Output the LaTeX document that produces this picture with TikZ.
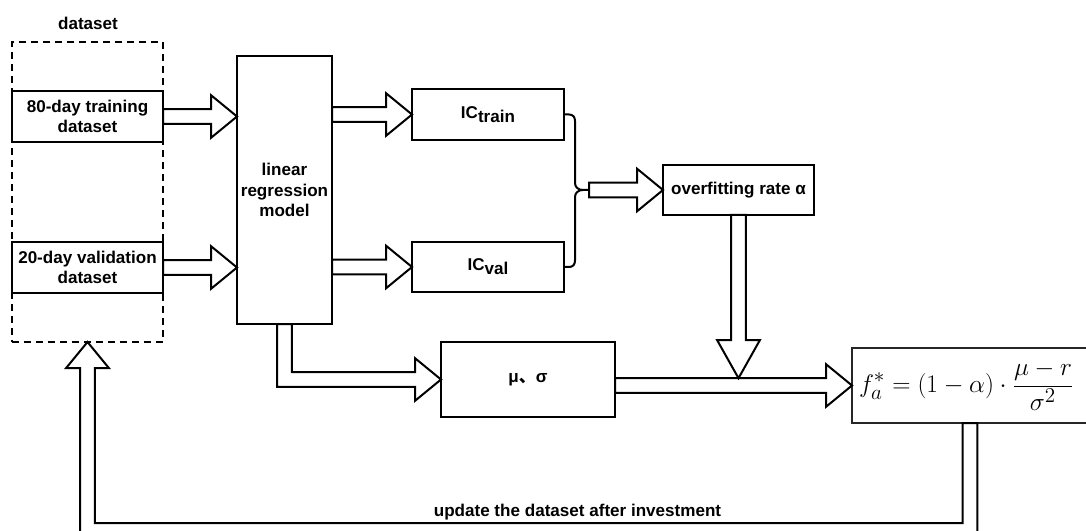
\documentclass[tikz,border=0pt]{standalone}
\usepackage[no-math]{fontspec}
\usepackage{graphicx}
\newfontfamily\arialf{Liberation Sans}
\newfontfamily\cjkf{Noto Sans CJK SC}
\usetikzlibrary{calc}
\newdimen\pxu \pxu=0.75pt
\def\sw{5.5pt}\def\hw{16pt}\def\hl{19.5pt}\def\hlv{28.5pt}
\newcommand\labf{\arialf\bfseries\fontsize{12.8}{15.5}\selectfont}
% horizontal block arrow from #1 to #2 (same height)
\newcommand\harr[2]{\draw[blk] let \p1=#1, \p2=#2 in
  (\x1,\y1+\sw) -- (\x2-\hl,\y1+\sw) -- (\x2-\hl,\y1+\hw) -- (\x2,\y1)
  -- (\x2-\hl,\y1-\hw) -- (\x2-\hl,\y1-\sw) -- (\x1,\y1-\sw) -- cycle;}
\tikzset{
  ln/.style={line width=1.5pt, line join=round},
  blk/.style={draw, line width=1.5pt, fill=white, line join=miter},
  box/.style={draw, line width=1.5pt, fill=white, align=center, font=\labf,
    inner sep=1pt, outer sep=0pt},
  dsbox/.style={draw, line width=1.5pt, dash pattern=on 5.25pt off 3.75pt, outer sep=0pt},
  fbox/.style={draw=black!85, line width=0.8pt, fill=white, outer sep=0pt,
    anchor=west, minimum height=75\pxu, text width=262\pxu, inner xsep=7\pxu, align=left},
}
\begin{document}
\begin{tikzpicture}[x=0.75pt,y=-0.75pt]
\useasboundingbox (0,0) rectangle (1086,531);
\clip (0,0) rectangle (1086,531);

% dataset group
\node[font=\labf, anchor=base] (title) at (88,30) {dataset};
\node[dsbox, minimum width=151\pxu, minimum height=300\pxu] (ds) at (87.5,192) {};
\node[box, minimum width=151\pxu, minimum height=51\pxu] (train) at (87.5,116.5) {80-day training\\dataset};
\node[box, minimum width=151\pxu, minimum height=51\pxu] (val) at (87.5,267.5) {20-day validation\\dataset};

% model and outputs
\node[box, minimum width=95\pxu, minimum height=268\pxu, align=center] (lr) at (284.5,190) {linear\\regression\\model};
\node[box, minimum width=152\pxu, minimum height=51\pxu] (ictrain) at (488,114.5) {IC\raisebox{-4\pxu}{train}};
\node[box, minimum width=152\pxu, minimum height=50\pxu] (icval) at (488,267) {IC\raisebox{-4\pxu}{val}};
\node[box, minimum width=151\pxu, minimum height=50\pxu] (overfit) at (738.5,190) {overfitting rate α};
\node[box, minimum width=174\pxu, minimum height=75\pxu] (musig) at (528,379.5) {μ{\cjkf 、}σ};
\node[fbox] (formula) at (852,385.5)
  {\fontsize{19}{22}\selectfont\scalebox{1.1}{$\displaystyle f_a^{*} = (1-\alpha)\cdot\frac{\mu - r}{\sigma^2}$}};

% arrows from datasets to model
\harr{(train.east)}{(train.east -| lr.west)}
\harr{(val.east)}{(val.east -| lr.west)}
% model to IC boxes
\harr{(ictrain.west -| lr.east)}{(ictrain.west)}
\harr{(icval.west -| lr.east)}{(icval.west)}

% brace joining the two IC boxes
\coordinate (bt) at ($(overfit.west)+(-74,0)$);
\draw[ln] (ictrain.east) -- ($(ictrain.east)+(5,0)$)
  .. controls ($(ictrain.east)+(9,0)$) and ($(ictrain.east)+(11,2.5)$) .. ($(ictrain.east)+(11,6.5)$)
  -- ($(bt)+(-14,-7)$)
  .. controls ($(bt)+(-14,-3)$) and ($(bt)+(-11,0)$) .. ($(bt)+(-6,0)$) -- (bt);
\draw[ln] (icval.east) -- ($(icval.east)+(5,0)$)
  .. controls ($(icval.east)+(9,0)$) and ($(icval.east)+(11,-2.5)$) .. ($(icval.east)+(11,-6.5)$)
  -- ($(bt)+(-14,7)$)
  .. controls ($(bt)+(-14,3)$) and ($(bt)+(-11,0)$) .. ($(bt)+(-6,0)$);
\harr{(bt)}{(overfit.west)}

% model down and right to mu, sigma
\draw[blk] let \p1=(lr.south), \p2=(musig.west) in
  (\x1-\sw,\y1) -- (\x1-\sw,\y2-\sw) -- (\x2-\hl,\y2-\sw) -- (\x2-\hl,\y2-\hw) -- (\x2,\y2)
  -- (\x2-\hl,\y2+\hw) -- (\x2-\hl,\y2+\sw) -- (\x1+\sw,\y2+\sw) -- (\x1+\sw,\y1) -- cycle;

% mu, sigma to formula
\harr{(formula.west -| musig.east)}{(formula.west)}

% overfitting rate down onto the shaft
\coordinate (join) at ($(overfit.south |- formula.west)+(0,-7.3)$);
\draw[blk] let \p1=(overfit.south), \p2=(join) in
  (\x1-\sw,\y1) -- (\x1-\sw,\y2+\hlv) -- (\x1-\hw,\y2+\hlv) -- (\x1,\y2)
  -- (\x1+\hw,\y2+\hlv) -- (\x1+\sw,\y2+\hlv) -- (\x1+\sw,\y1) -- cycle;

% feedback loop
\coordinate (fbtop) at ($(formula.south west)+(118,0)$);
\coordinate (lowline) at ($(ds.south)+(0,181)$);
\draw[blk] let \p1=(fbtop), \p2=(ds.south), \p3=(lowline) in
  (\x1-\sw,\y1) -- (\x1-\sw,\y3) -- (\x2+\sw,\y3) -- (\x2+\sw,\y2-\hl) -- (\x2+\hw,\y2-\hl)
  -- (\x2,\y2) -- (\x2-\hw,\y2-\hl) -- (\x2-\sw,\y2-\hl) -- (\x2-\sw,\y3-20pt)
  -- (\x1+\sw,\y3-20pt) -- (\x1+\sw,\y1) -- cycle;
\node[font=\labf, anchor=base] (upd) at (577.5,516) {update the dataset after investment};
\end{tikzpicture}
\end{document}
